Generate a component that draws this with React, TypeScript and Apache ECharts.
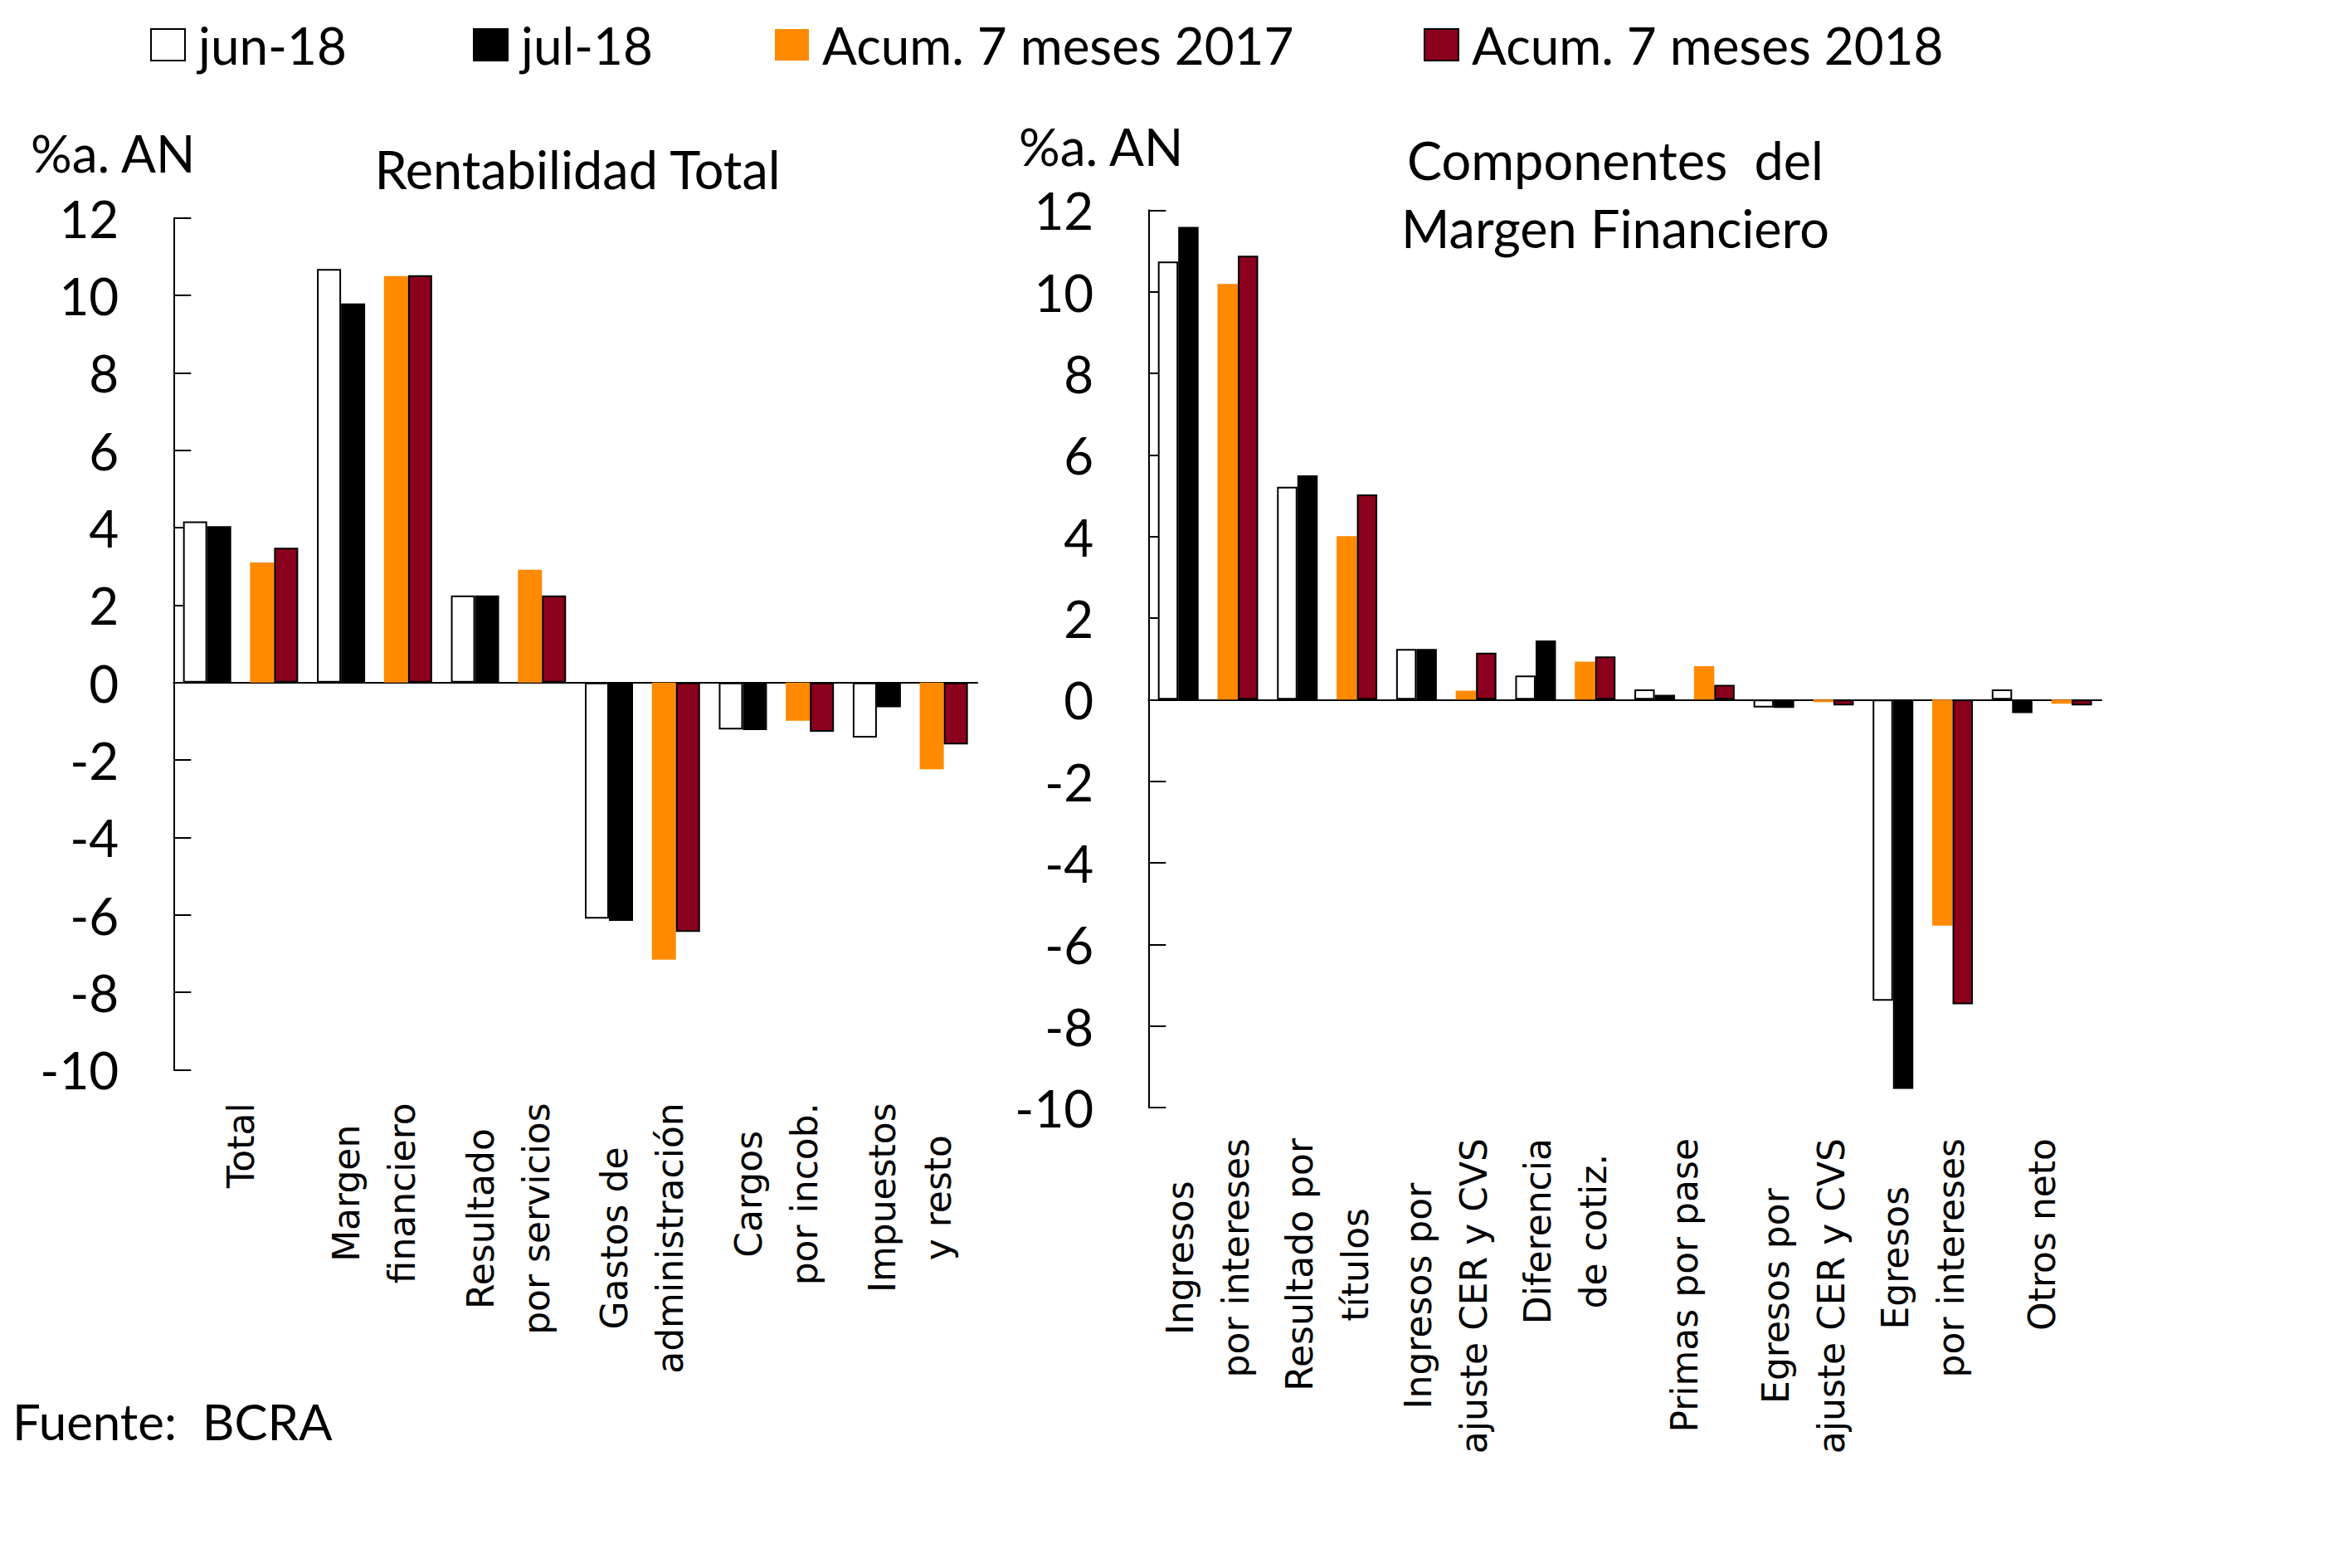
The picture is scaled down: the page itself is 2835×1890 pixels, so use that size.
import React, { useEffect, useRef } from 'react';
import * as echarts from 'echarts';

// ---------- data ----------
const SERIES_NAMES = ['jun-18', 'jul-18', 'Acum. 7 meses 2017', 'Acum. 7 meses 2018'];

const LEFT_CATEGORIES = [
  'Total',
  'Margen\nfinanciero',
  'Resultado\npor servicios',
  'Gastos de\nadministración',
  'Cargos\npor incob.',
  'Impuestos\ny resto',
];
const LEFT_JUN18 = [4.16, 10.68, 2.25, -6.1, -1.21, -1.42];
const LEFT_JUL18 = [4.04, 9.79, 2.25, -6.16, -1.23, -0.64];
const LEFT_ACUM17 = [3.1, 10.5, 2.91, -7.16, -0.99, -2.24];
const LEFT_ACUM18 = [3.48, 10.52, 2.25, -6.44, -1.27, -1.6];

const RIGHT_CATEGORIES = [
  'Ingresos\npor intereses',
  'Resultado por\ntítulos',
  'Ingresos por\najuste CER y CVS',
  'Diferencia\nde cotiz.',
  'Primas por pase',
  'Egresos por\najuste CER y CVS',
  'Egresos\npor intereses',
  'Otros neto',
];
const RIGHT_JUN18 = [10.74, 5.22, 1.24, 0.59, 0.25, -0.19, -7.38, 0.25];
const RIGHT_JUL18 = [11.59, 5.5, 1.24, 1.45, 0.12, -0.2, -9.54, -0.33];
const RIGHT_ACUM17 = [10.19, 4.01, 0.22, 0.93, 0.82, -0.06, -5.54, -0.1];
const RIGHT_ACUM18 = [10.88, 5.03, 1.15, 1.06, 0.36, -0.14, -7.47, -0.14];

const Y_MIN = -10;
const Y_MAX = 12;
const Y_STEP = 2;

// ---------- styles ----------
const ORANGE = '#FF8A00';
const CRIMSON = '#8B001C';
const MAIN_FONT = 'Lato';
const CAT_FONT = 'DejaVu Sans';

// place a category's values into the first or second sub-slot of each category
function toSlots(values: number[], second: boolean): (number | null)[] {
  const out: (number | null)[] = [];
  values.forEach((v) => {
    if (second) out.push(null, v);
    else out.push(v, null);
  });
  return out;
}

function slotNames(cats: string[]): string[] {
  const out: string[] = [];
  cats.forEach((_, i) => out.push(i + 'a', i + 'b'));
  return out;
}

const ITEM_STYLES = [
  { color: '#FFFFFF', borderColor: '#000000', borderWidth: 2 },
  { color: '#000000', borderColor: '#000000', borderWidth: 2 },
  { color: ORANGE, borderWidth: 0 },
  { color: CRIMSON, borderColor: '#000000', borderWidth: 2 },
];

function makeSeries(
  xAxisIndex: number,
  yAxisIndex: number,
  prefix: string,
  barWidth: number,
  jun: number[],
  jul: number[],
  a17: number[],
  a18: number[]
) {
  const sets = [
    { data: toSlots(jun, false), stack: prefix + 'L' },
    { data: toSlots(jul, false), stack: prefix + 'R' },
    { data: toSlots(a17, true), stack: prefix + 'L' },
    { data: toSlots(a18, true), stack: prefix + 'R' },
  ];
  return sets.map((s, i) => ({
    type: 'bar',
    name: SERIES_NAMES[i],
    xAxisIndex,
    yAxisIndex,
    stack: s.stack,
    data: s.data,
    barWidth,
    barGap: '0%',
    itemStyle: ITEM_STYLES[i],
    emphasis: { disabled: true },
  }));
}

function valueAxis(gridIndex: number) {
  return {
    type: 'value',
    gridIndex,
    min: Y_MIN,
    max: Y_MAX,
    interval: Y_STEP,
    axisLine: { show: true, lineStyle: { color: '#000', width: 2 } },
    axisTick: { show: true, inside: true, length: 21, lineStyle: { color: '#000', width: 2 } },
    splitLine: { show: false },
    axisLabel: {
      show: true,
      margin: 66,
      color: '#000',
      fontFamily: MAIN_FONT,
      fontSize: 62,
    },
  };
}

function slotAxis(gridIndex: number, cats: string[]) {
  return {
    type: 'category',
    gridIndex,
    position: 'bottom',
    data: slotNames(cats),
    axisLine: { show: true, onZero: true, lineStyle: { color: '#000', width: 2 } },
    axisTick: { show: false },
    axisLabel: { show: false },
    splitLine: { show: false },
  };
}

function labelAxis(gridIndex: number, cats: string[], margin: number) {
  return {
    type: 'category',
    gridIndex,
    position: 'bottom',
    data: cats,
    axisLine: { show: false, onZero: false },
    axisTick: { show: false },
    splitLine: { show: false },
    axisLabel: {
      show: true,
      interval: 0,
      rotate: 90,
      margin,
      color: '#000',
      fontFamily: CAT_FONT,
      fontSize: 44,
      lineHeight: 67,
      formatter: (v: string) =>
        v
          .split('\n')
          .map((s) => '{c|' + s + '}')
          .join('\n'),
      rich: {
        c: {
          align: 'center',
          fontFamily: CAT_FONT,
          fontSize: 44,
          lineHeight: 67,
          color: '#000',
        },
      },
    },
  };
}

function legendItem(name: string, left: number) {
  return {
    show: true,
    data: [name],
    left,
    top: 23,
    padding: 0,
    icon: 'rect',
    itemWidth: 41,
    itemHeight: 38,
    selectedMode: false,
    textStyle: {
      color: '#000',
      fontFamily: MAIN_FONT,
      fontSize: 62,
      padding: [0, 0, 0, 11],
    },
  };
}

function textEl(text: string, x: number, y: number, align: string, size: number) {
  return {
    type: 'text',
    x,
    y,
    silent: true,
    style: {
      text,
      fill: '#000',
      fontFamily: MAIN_FONT,
      fontSize: size,
      align,
      verticalAlign: 'middle',
    },
  };
}

export default function App() {
  const ref = useRef<HTMLDivElement>(null);

  useEffect(() => {
    if (!ref.current) return;
    const chart = echarts.init(ref.current, undefined, { renderer: 'svg' });
    const option = {
      animation: false,
      backgroundColor: '#FFFFFF',
      textStyle: { fontFamily: MAIN_FONT, color: '#000' },
      legend: [
        legendItem(SERIES_NAMES[0], 181),
        legendItem(SERIES_NAMES[1], 570),
        legendItem(SERIES_NAMES[2], 934),
        legendItem(SERIES_NAMES[3], 1716),
      ],
      grid: [
        { left: 209.3, top: 262.7, width: 968.7, height: 1026.6, outerBoundsMode: 'none' },
        { left: 1384.3, top: 253.3, width: 1148.7, height: 1081.7, outerBoundsMode: 'none' },
      ],
      xAxis: [
        slotAxis(0, LEFT_CATEGORIES),
        labelAxis(0, LEFT_CATEGORIES, 40),
        slotAxis(1, RIGHT_CATEGORIES),
        labelAxis(1, RIGHT_CATEGORIES, 37),
      ],
      yAxis: [valueAxis(0), valueAxis(1)],
      series: [
        ...makeSeries(0, 0, 'left', 29, LEFT_JUN18, LEFT_JUL18, LEFT_ACUM17, LEFT_ACUM18),
        ...makeSeries(2, 1, 'right', 24.5, RIGHT_JUN18, RIGHT_JUL18, RIGHT_ACUM17, RIGHT_ACUM18),
      ],
      graphic: [
        textEl('%a. AN', 37, 184, 'left', 62),
        textEl('%a. AN', 1228, 176, 'left', 62),
        textEl('Rentabilidad Total', 696, 203, 'center', 63),
        textEl('Componentes  del', 1947, 192, 'center', 63),
        textEl('Margen Financiero', 1947, 274, 'center', 63),
        textEl('Fuente:  BCRA', 15, 1713, 'left', 60),
      ],
    };
    chart.setOption(option as any);
    return () => {
      chart.dispose();
    };
  }, []);

  return (
    <div
      ref={ref}
      style={{ position: 'absolute', left: 0, top: 0, width: '2835px', height: '1890px', background: '#fff' }}
    />
  );
}
